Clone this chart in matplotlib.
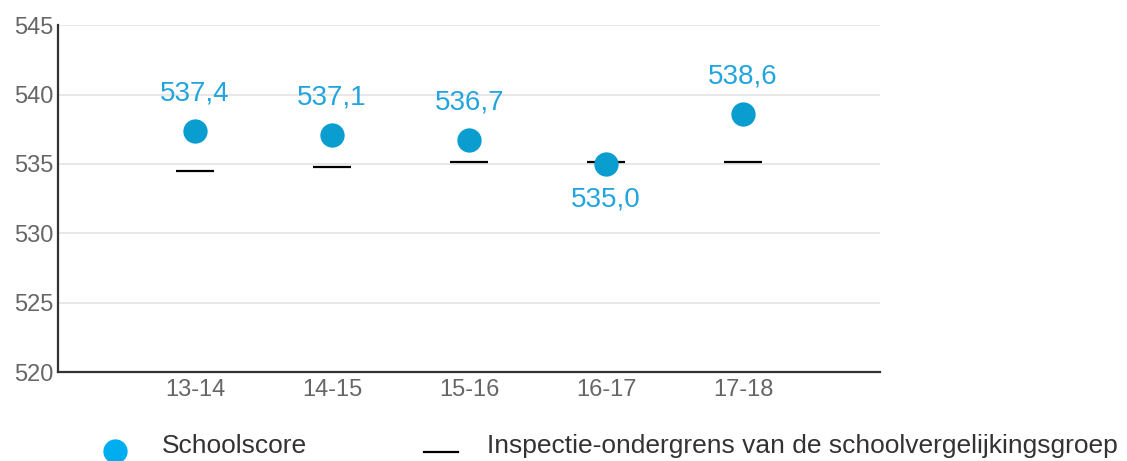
import matplotlib.pyplot as plt
from matplotlib.lines import Line2D
import numpy as np

plt.rcParams['font.family'] = ['Liberation Sans', 'DejaVu Sans']

years = ['13-14', '14-15', '15-16', '16-17', '17-18']
schoolscore = [537.4, 537.1, 536.7, 535.0, 538.6]
ondergrens = [534.5, 534.8, 535.1, 535.1, 535.1]
label_pos = ['above', 'above', 'above', 'below', 'above']

point_col = '#0a9dd0'
label_col = '#22a5de'
tick_col = '#666666'

fig = plt.figure(figsize=(11.27, 4.61), dpi=100)
ax = fig.add_axes([0.0515, 0.193, 0.7295, 0.7525])

x = np.arange(1, len(years) + 1)
ax.hlines(ondergrens, x - 0.14, x + 0.14, color='black', lw=1.6, zorder=3)
ax.plot(x, schoolscore, 'o', color=point_col, ms=17.5, mec='none', zorder=4)

for xi, v, pos in zip(x, schoolscore, label_pos):
    dy = 27 if pos == 'above' else -26
    ax.annotate(f'{v:.1f}'.replace('.', ','), (xi, v), xytext=(0, dy),
                textcoords='offset points', ha='center', va='center',
                fontsize=20, color=label_col)

ax.set_xlim(0, 6)
ax.set_ylim(520, 545)
ax.set_yticks(np.arange(520, 546, 5))
ax.set_xticks(x)
ax.set_xticklabels(years)
ax.grid(axis='y', color='#e3e3e3', lw=1.2)
ax.set_axisbelow(True)
for s in ['top', 'right']:
    ax.spines[s].set_visible(False)
for s in ['left', 'bottom']:
    ax.spines[s].set_color('#333333')
    ax.spines[s].set_linewidth(1.6)
ax.tick_params(axis='both', length=0, labelsize=17, labelcolor=tick_col)
ax.tick_params(axis='x', pad=5)
ax.tick_params(axis='y', pad=3)

# legend below the plot
W, H = 1127, 461
fig.add_artist(Line2D([115 / W], [1 - 451 / H], marker='o', ls='none',
                      color='#00aeef', ms=17.5, mec='none'))
fig.text(162 / W, 1 - 446 / H, 'Schoolscore', fontsize=19, color='#333333',
         va='center', ha='left')
fig.add_artist(Line2D([424 / W, 458 / W], [1 - 452 / H, 1 - 452 / H],
                      color='black', lw=1.6))
fig.text(487 / W, 1 - 446 / H, 'Inspectie-ondergrens van de schoolvergelijkingsgroep',
         fontsize=19, color='#333333', va='center', ha='left')

fig.savefig('out.png', dpi=100)
